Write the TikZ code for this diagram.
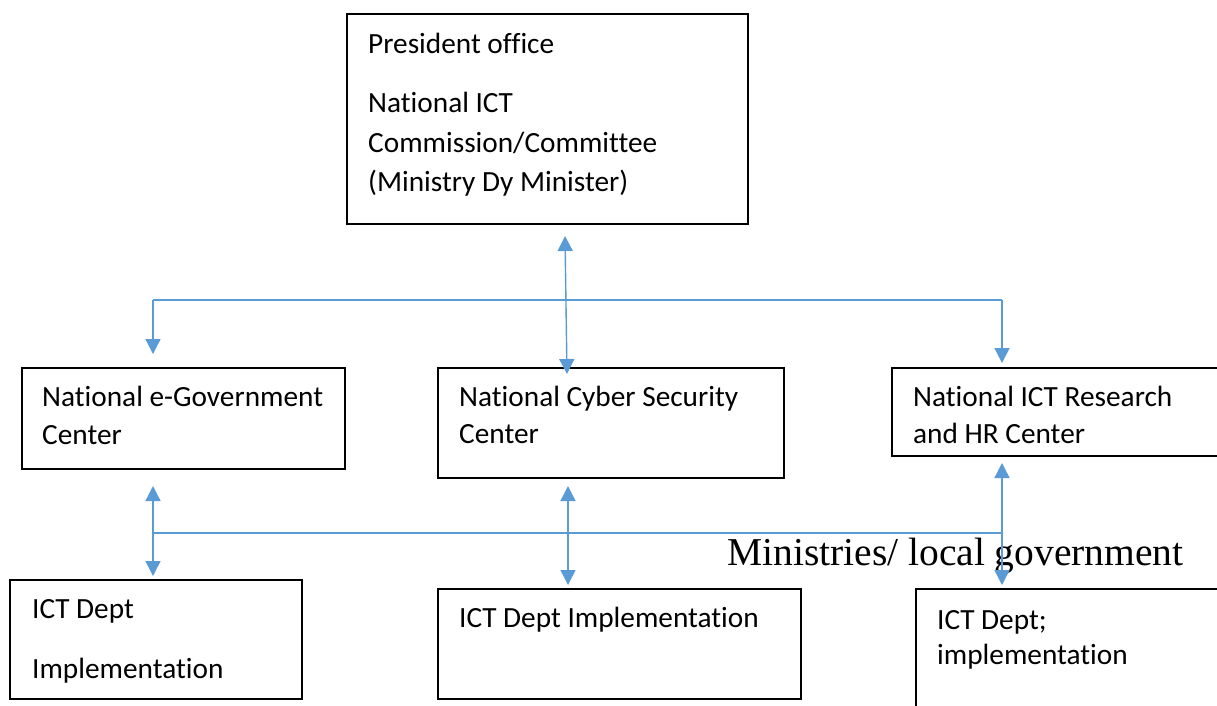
\documentclass[tikz,border=0pt]{standalone}
\usepackage{fontspec}
\setmainfont{Carlito}[Ligatures=NoCommon]
\newfontfamily\timesf{Liberation Serif}
\usetikzlibrary{arrows.meta}
\definecolor{connblue}{HTML}{5B9BD5}
\begin{document}
\begin{tikzpicture}[x=1pt,y=-1pt,
  box/.style={draw=black, line width=1.2pt, inner sep=0pt, outer sep=0pt, anchor=north west},
  lbl/.style={anchor=base west, inner sep=0pt, font=\fontsize{29.3}{35}\selectfont},
  conn/.style={draw=connblue, line width=1.4pt},
  dbl/.style={conn, {Triangle[width=15pt,length=15pt]}-{Triangle[width=15pt,length=15pt]}},
  one/.style={conn, -{Triangle[width=15pt,length=15pt]}}]
\useasboundingbox (0,0) rectangle (1217,705);
\clip (0,0) rectangle (1217,705);
\fill[white] (0,0) rectangle (1217,705);
% boxes
\node[box, minimum width=401pt, minimum height=210pt] (top) at (347,14) {};
\node[box, minimum width=323pt, minimum height=101pt] (egov) at (22,368) {};
\node[box, minimum width=346pt, minimum height=110pt] (cyber) at (438,368) {};
\node[box, minimum width=340pt, minimum height=88pt] (research) at (892,368) {};
\node[box, minimum width=292pt, minimum height=119pt] (ict1) at (10,580) {};
\node[box, minimum width=363pt, minimum height=110pt] (ict2) at (438,589) {};
\node[box, minimum width=320pt, minimum height=130pt] (ict3) at (916,589) {};
% labels
\node[lbl] (t1) at (368,53) {President office};
\node[lbl] (t2) at (368,112) {National ICT};
\node[lbl] (t3) at (368,152) {Commission/Committee};
\node[lbl] (t4) at (368,191) {(Ministry Dy Minister)};
\node[lbl] (e1) at (42,406) {National e-Government};
\node[lbl] (e2) at (42,444) {Center};
\node[lbl] (c1) at (459,406) {National Cyber Security};
\node[lbl] (c2) at (459,443) {Center};
\node[lbl] (r1) at (913,406) {National ICT Research};
\node[lbl] (r2) at (913,443) {and HR Center};
\node[lbl] (i1a) at (32,618) {ICT Dept};
\node[lbl] (i1b) at (32,678) {Implementation};
\node[lbl] (i2a) at (459,627) {ICT Dept Implementation};
\node[lbl] (i3a) at (937,629) {ICT Dept;};
\node[lbl] (i3b) at (937,664) {implementation};
\node[anchor=base west, inner sep=0pt, font=\timesf\fontsize{39.5}{44}\selectfont] (min) at (727,565) {Ministries/ local government};
% connector coordinates
\coordinate (busTL) at (153,300);
\coordinate (busTR) at (1002,300);
\coordinate (egovIn) at (153,354);
\coordinate (resIn) at (1002,363);
\coordinate (topOut) at (565,236);
\coordinate (cyberIn) at (567,374);
\coordinate (busBL) at (153,533);
\coordinate (busBR) at (1002,533);
\coordinate (egovOut) at (153,486);
\coordinate (ict1In) at (153,576);
\coordinate (cyberOut) at (568,486);
\coordinate (ict2In) at (568,585);
\coordinate (resOut) at (1002,463);
\coordinate (ict3In) at (1002,585);
% connectors
\draw[conn] (busTL) -- (busTR);
\draw[one] (busTL) -- (egovIn);
\draw[one] (busTR) -- (resIn);
\draw[dbl] (topOut) -- (cyberIn);
\draw[conn] (busBL) -- (busBR);
\draw[dbl] (egovOut) -- (ict1In);
\draw[dbl] (cyberOut) -- (ict2In);
\draw[dbl] (resOut) -- (ict3In);
\end{tikzpicture}
\end{document}
